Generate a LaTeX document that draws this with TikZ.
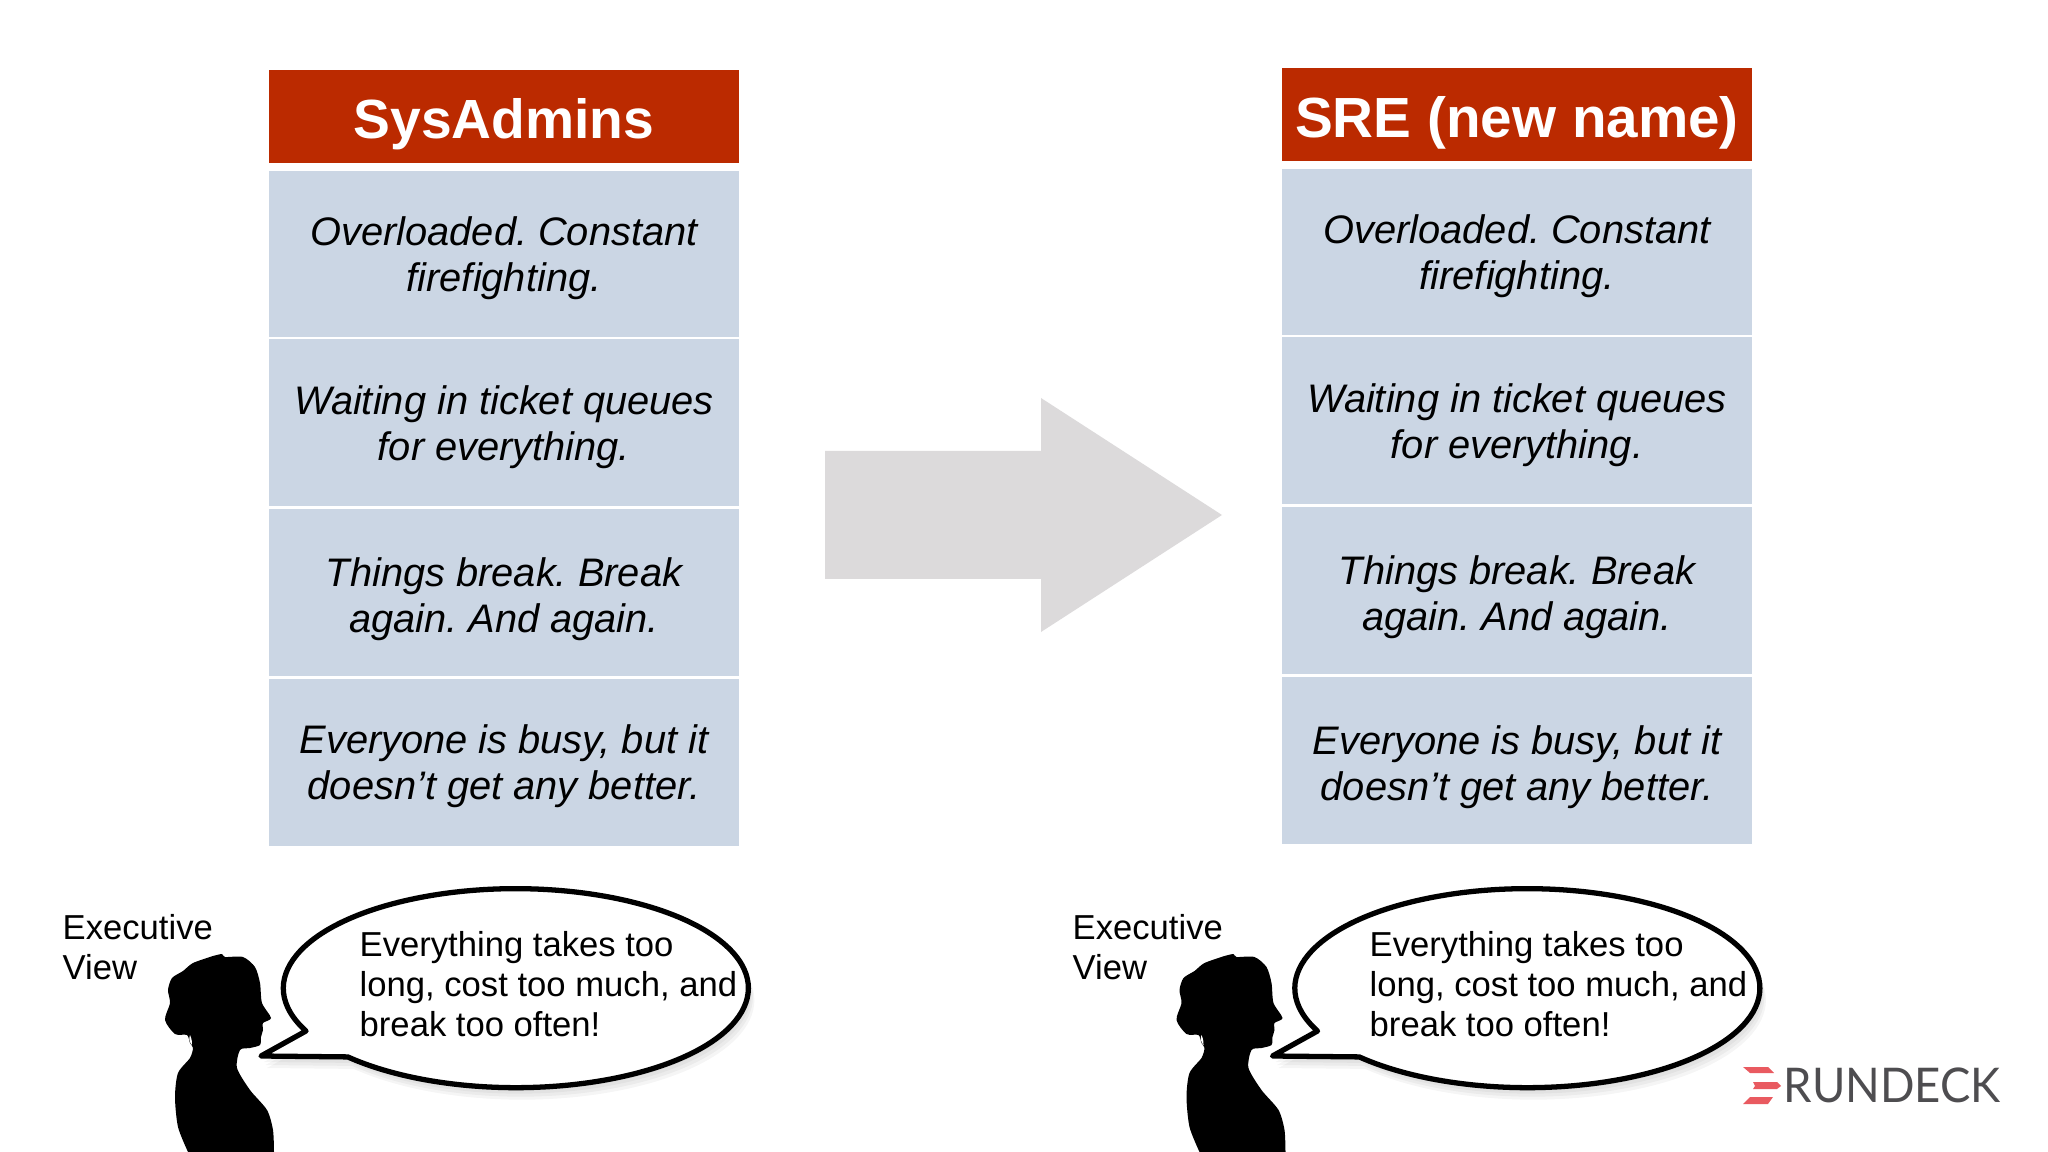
\documentclass[tikz,border=0pt]{standalone}
\usepackage{fontspec}
\setmainfont{Liberation Sans}
\newfontfamily\logofont[FakeStretch=.95]{Lato}
\frenchspacing
\definecolor{headred}{HTML}{BB2A00}
\definecolor{cellblue}{HTML}{CBD6E4}
\definecolor{arrowgray}{HTML}{DCDADB}
\definecolor{logored}{HTML}{E95A60}
\definecolor{logogray}{HTML}{4E4D50}
\tikzset{
  headbox/.style={fill=headred, minimum width=4.7cm, minimum height=.93cm, inner sep=0pt},
  headtext/.style={text=white, inner sep=0pt, font=\fontsize{#1}{18}\selectfont\bfseries},
  cellbox/.style={fill=cellblue, minimum width=4.7cm, minimum height=1.66cm, inner sep=0pt},
  celltext/.style={inner sep=0pt, align=center, font=\fontsize{11.32}{13.1}\selectfont\itshape},
  saytext/.style={anchor=west, inner sep=0pt, align=left, font=\fontsize{9.85}{11.4}\selectfont},
}
\newcommand{\bubblepath}{(306,-1031) arc[start angle=205.5, end angle=-136.3, x radius=232.5, y radius=99.5] -- (261,-1056) -- cycle}

\begin{document}
\begin{tikzpicture}[x=.01cm, y=.01cm]
    \useasboundingbox (0,-1152) rectangle (2048,0);
    % the two columns
    \foreach \colx/\coldy/\colname/\colhead/\headsize/\lastdy in {504/0/sys/SysAdmins/15.7/4, 1517/2/sre/SRE (new name)/16.1/6.5}{
      \node[headbox] (\colname-head) at (\colx, -116.5+\coldy) {};
      \node[headtext=\headsize] (\colname-title) at (\colx, -124.5+\coldy) {\colhead};
      \foreach \rowy/\rowdy/\rowtext [count=\i] in {254/4/{Overloaded. Constant\\firefighting.},
          422.5/5/{Waiting in ticket queues\\for everything.},
          592.5/6.5/{Things break. Break\\again. And again.},
          762.5/\lastdy/{Everyone is busy, but it\\doesn’t get any better.}}{
        \node[cellbox] (\colname-row\i) at (\colx, -\rowy+\coldy) {};
        \node[celltext] (\colname-text\i) at (\colx, -\rowy-\rowdy+\coldy) {\rowtext};
      }
    }
    % big arrow
    \fill[arrowgray] (825,-451) -- (1041,-451) -- (1041,-398) -- (1222,-515) -- (1041,-632) -- (1041,-579) -- (825,-579) -- cycle;
    % executive with bubble, twice
    \foreach \dx/\colname/\saydx in {0/sys/0, 1011.5/sre/-1.5}{
      \begin{scope}[shift={(\dx,0)}]
        \foreach \s in {3,6,9,12}{
          \fill[black, opacity=.04, shift={(.5*\s,-\s)}] \bubblepath;
        }
        \fill[white] \bubblepath;
        \draw[black, line width=1.5pt, line join=round] \bubblepath;
        \fill[black] plot[smooth, tension=.45] coordinates {(213,-956) (222,-954) (225,-957) (243,-957) (255,-967) (260,-983)
          (262,-1003) (271,-1018) (263,-1023) (263,-1030) (261,-1037) (260,-1045) (250,-1048) (240,-1050) (237,-1068)
          (250,-1090) (267,-1110) (273,-1130) (274,-1152)}
          -- plot[smooth, tension=.45] coordinates {(188,-1152) (178,-1127) (175,-1097) (178,-1073) (190,-1058) (193,-1048)
          (190,-1043) (187,-1035) (175,-1034) (165,-1020) (170,-1003) (168,-990) (172,-978) (183,-971) (193,-963) (213,-956)} -- cycle;
        \fill[white] (190,-1035) .. controls (192,-1039) and (192,-1043) .. (192,-1045) .. controls (189,-1042) and (189,-1038) .. (190,-1035) -- cycle;
        \node[saytext] (\colname-view) at (62+\saydx,-947) {Executive\\View};
        \node[saytext] (\colname-say) at (359+\saydx,-984) {Everything takes too\\long, cost too much, and\\break too often!};
      \end{scope}
    }
    % logo
    \fill[logored] (1743,-1067) -- (1768,-1067) -- (1774,-1073) -- (1750,-1073) -- cycle;
    \fill[logored] (1753,-1082) -- (1777,-1082) -- (1781,-1086) -- (1777,-1089) -- (1753,-1089) -- (1755,-1086) -- cycle;
    \fill[logored] (1750,-1097) -- (1773,-1097) -- (1768,-1104) -- (1743,-1104) -- cycle;
    \node[anchor=base west, inner sep=0pt, text=logogray, font=\fontsize{13.6}{16}\logofont] (logo) at (1783,-1102) {RUNDECK};
\end{tikzpicture}
\end{document}
